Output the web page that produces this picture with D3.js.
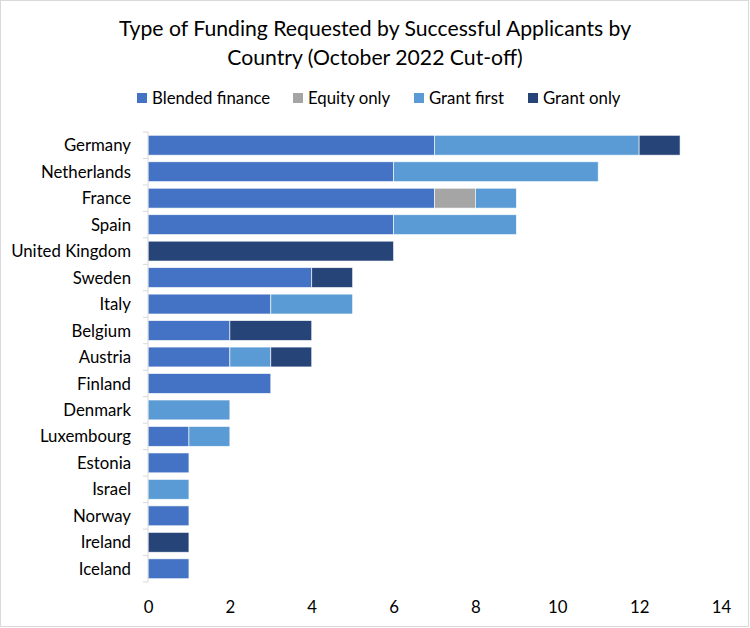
<!DOCTYPE html>
<html><head><meta charset="utf-8">
<script src="https://cdn.jsdelivr.net/npm/d3@7"></script>
<style>
html,body{margin:0;padding:0;background:#fff;}
svg text{font-family:Lato,"Open Sans",sans-serif;fill:#000;}
</style></head>
<body>
<svg id="c" width="750" height="628"></svg>
<script>
const countries = ["Germany","Netherlands","France","Spain","United Kingdom","Sweden","Italy","Belgium","Austria","Finland","Denmark","Luxembourg","Estonia","Israel","Norway","Ireland","Iceland"];
const seriesNames = ["Blended finance","Equity only","Grant first","Grant only"];
const blended    = [7,6,7,6,0,4,3,2,2,3,0,1,1,0,1,0,1];
const equityOnly = [0,0,1,0,0,0,0,0,0,0,0,0,0,0,0,0,0];
const grantFirst = [5,5,1,3,0,0,2,0,1,0,2,1,0,1,0,0,0];
const grantOnly  = [1,0,0,0,6,1,0,2,1,0,0,0,0,0,0,1,0];
const xTicks = [0,2,4,6,8,10,12,14];
const colors = ["#4472C4","#A5A5A5","#5B9BD5","#264478"];

const svg = d3.select("#c");
svg.append("rect").attr("x",0.5).attr("y",0.5).attr("width",748).attr("height",626)
  .attr("fill","#fff").attr("stroke","#d9d9d9");

const rows = countries.map((c,i)=>({country:c,"Blended finance":blended[i],"Equity only":equityOnly[i],"Grant first":grantFirst[i],"Grant only":grantOnly[i]}));
const stack = d3.stack().keys(seriesNames)(rows);

const x = d3.scaleLinear().domain([0,14]).range([148,721]);
const y = d3.scaleBand().domain(countries).range([132,582]).paddingInner(0.25).paddingOuter(0.125);

// title
const title = svg.append("text").attr("text-anchor","middle").attr("font-size",21.2);
title.append("tspan").attr("x",375).attr("y",36).text("Type of Funding Requested by Successful Applicants by");
title.append("tspan").attr("x",375).attr("y",65).text("Country (October 2022 Cut-off)");

// legend
const legendPos = [137,293,414,528];
seriesNames.forEach((s,i)=>{
  const g = svg.append("g");
  g.append("rect").attr("x",legendPos[i]).attr("y",93).attr("width",10).attr("height",10).attr("fill",colors[i]);
  g.append("text").attr("x",legendPos[i]+15).attr("y",104).attr("font-size",16.8).text(s);
});

// bars
svg.append("g").selectAll("g").data(stack).join("g")
  .attr("fill",(d,i)=>colors[i])
  .selectAll("rect").data(d=>d.filter(v=>v[1]-v[0]>0)).join("rect")
  .attr("x",d=>x(d[0])).attr("width",d=>x(d[1])-x(d[0]))
  .attr("y",d=>y(d.data.country)).attr("height",y.bandwidth())
  .attr("stroke","#fff").attr("stroke-width",0.75).attr("stroke-opacity",0.8);

// y axis line and ticks
const yAxisG = svg.append("g");
yAxisG.append("line").attr("x1",148).attr("x2",148).attr("y1",132).attr("y2",582).attr("stroke","#d9d9d9");
d3.range(countries.length+1).forEach(i=>{
  const yy = 132 + i*(450/countries.length);
  yAxisG.append("line").attr("x1",143).attr("x2",148).attr("y1",yy).attr("y2",yy).attr("stroke","#d9d9d9");
});
countries.forEach(c=>{
  yAxisG.append("text").attr("x",131).attr("y",y(c)+y.bandwidth()/2).attr("dy","0.36em")
    .attr("text-anchor","end").attr("font-size",16.8).text(c);
});

// x axis labels
const xAxis = d3.axisBottom(x).tickValues(xTicks).tickSize(0).tickPadding(0);
const xg = svg.append("g").attr("transform","translate(0,613)").call(xAxis);
xg.select(".domain").remove();
xg.selectAll("text").attr("font-size",16.8).attr("dy",0).attr("fill","#000")
  .style("font-family","Lato,'Open Sans',sans-serif");
</script>
</body></html>
